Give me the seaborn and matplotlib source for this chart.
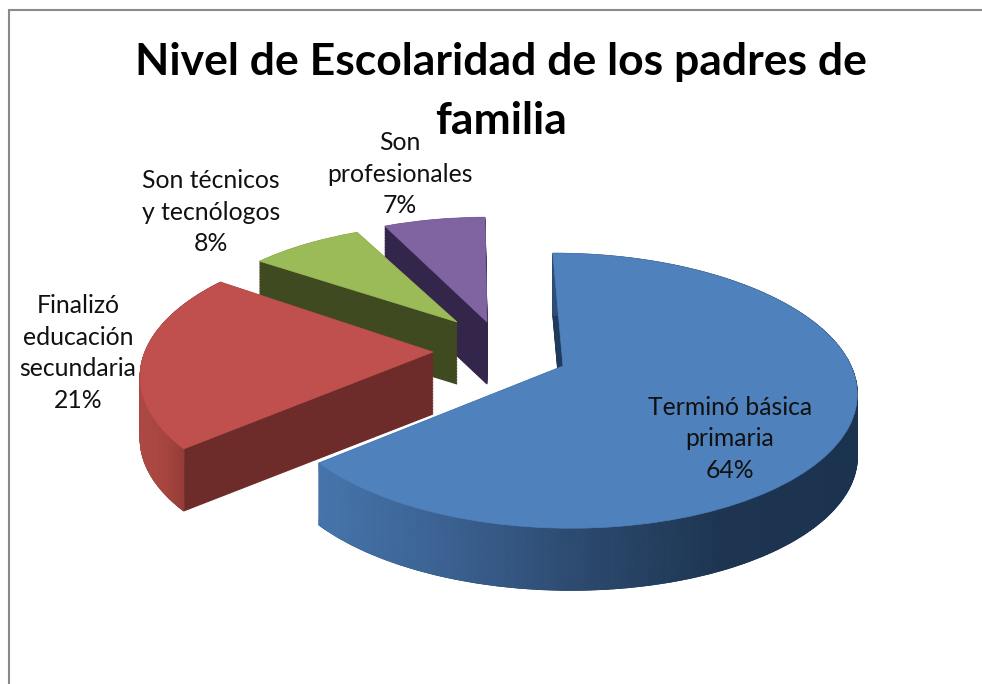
import numpy as np
import matplotlib
matplotlib.use('Agg')
import matplotlib.pyplot as plt
import seaborn as sns
from matplotlib.colors import LinearSegmentedColormap
from matplotlib.transforms import Transform

# Data
categories = ['Terminó básica\nprimaria', 'Finalizó\neducación\nsecundaria',
              'Son técnicos\ny tecnólogos', 'Son\nprofesionales']
shares = [64, 21, 8, 7]
top_colors = ['#4f81bd', '#c0504d', '#9bbb59', '#8064a2']
side_colors = ['#1f3a5c', '#6d2b29', '#3f4a20', '#33264a']
title_lines = ['Nivel de Escolaridad de los padres de', 'familia']

# Layout, in pixels of the picture
apex = [(563, 366), (433, 352), (457, 322), (487, 322)]
stretch = [(1.0, 1.0), (1.0, 1.0), (0.93, 0.87), (0.95, 0.93)]
lean = [8, 0, 0, 0]
label_pos = [(730, 439), (78, 353), (211, 212), (400, 174)]
title_baselines = [75, 134]
RX, RY, TILT = 288, 133, 0.18
DEPTH = 62
START = 90.5

sns.set_theme(style='white')
plt.rcParams['font.family'] = ['Lato', 'DejaVu Sans']


# Puts the flat unit pie on a tilted plane around the apex of one slice
class Tilted(Transform):
    input_dims = 2
    output_dims = 2

    def __init__(self, i, drop=0):
        super().__init__()
        self.i = i
        self.drop = drop

    def transform_non_affine(self, values):
        u, v = values[:, 0], values[:, 1]
        w = 1 + TILT * v
        x = apex[self.i][0] + stretch[self.i][0] * RX * u / w - lean[self.i] * v
        y = apex[self.i][1] + self.drop - stretch[self.i][1] * RY * v / w
        return np.column_stack([x, y])


def draw_pie(ax, drop, colors, zorders, **wedgeprops):
    wedges, _ = ax.pie(shares, startangle=START, counterclock=False, colors=colors,
                       wedgeprops=wedgeprops)
    for i, wedge in enumerate(wedges):
        wedge.set_transform(Tilted(i, drop) + ax.transData)
        wedge.set_zorder(zorders[i])
        wedge.set_edgecolor(colors[i])
    return wedges


# Outer wall of a slice, shaded from left to right
def draw_wall(ax, i, shade, vmin, vmax, zorder):
    first = START - sum(shares[:i]) * 3.6
    angles = np.radians(np.linspace(first, first - shares[i] * 3.6, 240))
    rim = np.column_stack([np.cos(angles), np.sin(angles)])
    upper = Tilted(i, 0).transform(rim)
    lower = Tilted(i, DEPTH).transform(rim)
    xs = np.vstack([upper[:, 0], lower[:, 0]])
    ys = np.vstack([upper[:, 1], lower[:, 1]])
    cmap = LinearSegmentedColormap.from_list('wall', shade)
    ax.pcolormesh(xs, ys, xs, shading='gouraud', cmap=cmap, vmin=vmin, vmax=vmax, zorder=zorder)


fig = plt.figure(figsize=(9.82, 6.84), dpi=100)
ax = fig.add_axes([0, 0, 1, 1])

# Draw order by slice: blue in front, then red, green, purple at the back
order = [4, 3, 2, 1]
for drop in np.arange(DEPTH, 0, -1.5):
    draw_pie(ax, drop, side_colors, order, linewidth=0.8)

draw_wall(ax, 0, ['#4674aa', '#3a6090', '#2b486c', '#1d3551', '#1c334f'], 322, 860, order[0] + 0.2)
draw_wall(ax, 1, ['#ab4a45', '#a8453f', '#8f3a36'], 140, 190, order[1] + 0.2)

draw_pie(ax, 0, top_colors, [o + 0.5 for o in order], linewidth=0.5)

ax.set_aspect('auto')
ax.set_xlim(0, 982)
ax.set_ylim(684, 0)
ax.axis('off')

# Chart area border, open on the right
ax.plot([9, 9, 982], [684, 10, 10], color='#8a8a8a', lw=1.5, zorder=0.5, solid_joinstyle='miter')

# The two title lines are separate so the "Son" label can sit beside the second
for line, base in zip(title_lines, title_baselines):
    ax.text(501, base, line, ha='center', va='baseline', fontsize=32, fontweight='bold',
            color='black', zorder=6)
for i, name in enumerate(categories):
    ax.text(label_pos[i][0], label_pos[i][1], f'{name}\n{shares[i]}%', ha='center', va='center',
            fontsize=17.8, color='#111111', linespacing=1.46, zorder=7)

fig.savefig('out.png', dpi=100, facecolor='white')
